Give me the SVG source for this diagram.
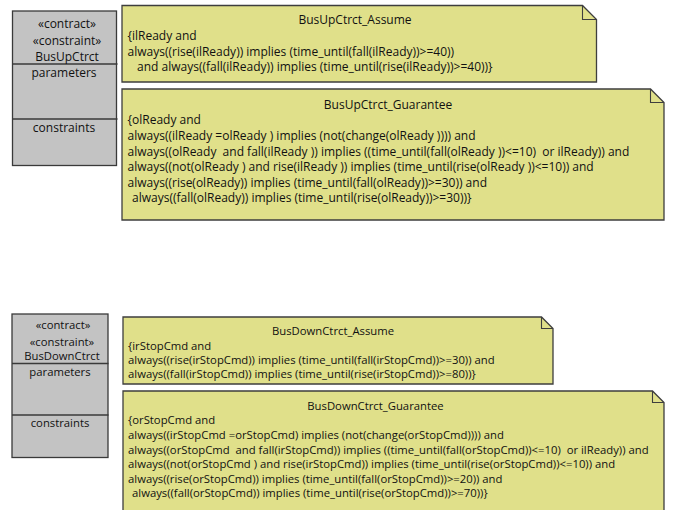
<svg xmlns="http://www.w3.org/2000/svg" width="673" height="510" viewBox="0 0 673 510" xml:space="preserve">
  <style>
    .cls { fill: #c3c3c3; stroke: #3a3a3a; stroke-width: 1.3; }
    .div { stroke: #3a3a3a; stroke-width: 1.3; fill: none; }
    .note { fill: #e0e08a; stroke: #3e3e3e; stroke-width: 1.3; }
    .fold { fill: none; stroke: #3e3e3e; stroke-width: 1.1; }
    text { font-family: "Open Sans", "Noto Sans", sans-serif; fill: #111; white-space: pre; }
    .t { font-size: 12px; }
    .b { font-size: 11.3px; }
    .c { text-anchor: middle; }
  </style>

  <!-- BusUpCtrct contract block -->
  <g id="BusUpCtrct">
    <rect class="cls" x="12.5" y="11" width="104" height="154.5"/>
    <line class="div" x1="12.5" y1="64" x2="117.5" y2="64"/>
    <line class="div" x1="12.5" y1="119" x2="117.5" y2="119"/>
    <text class="t c" x="67" y="28">«contract»</text>
    <text class="t c" x="67" y="44.5">«constraint»</text>
    <text class="t c" x="67" y="60.5">BusUpCtrct</text>
    <text class="t c" x="64" y="77">parameters</text>
    <text class="t c" x="64" y="132">constraints</text>
  </g>

  <!-- BusUpCtrct assume note -->
  <g id="BusUpCtrct_Assume">
    <path class="note" d="M122,5.5 H582.5 L596.5,19.5 V82 H122 Z"/>
    <path class="fold" d="M582.5,5.5 V19.5 H596.5"/>
    <text class="t c" x="355" y="24">BusUpCtrct_Assume</text>
    <text class="t" x="127.5" y="40">{ilReady and</text>
    <text class="t" x="127.5" y="55.5">always((rise(ilReady)) implies (time_until(fall(ilReady))&gt;=40))</text>
    <text class="t" x="137" y="71">and always((fall(ilReady)) implies (time_until(rise(ilReady))&gt;=40))}</text>
  </g>

  <!-- BusUpCtrct guarantee note -->
  <g id="BusUpCtrct_Guarantee">
    <path class="note" d="M122,89 H650.5 L664,102.5 V220 H122 Z"/>
    <path class="fold" d="M650.5,89 V102.5 H664"/>
    <text class="t c" x="388" y="108.5">BusUpCtrct_Guarantee</text>
    <text class="t" x="127.5" y="124">{olReady and</text>
    <text class="t" x="127.5" y="140">always((ilReady =olReady ) implies (not(change(olReady )))) and</text>
    <text class="t" x="127.5" y="155.5">always((olReady  and fall(ilReady )) implies ((time_until(fall(olReady ))&lt;=10)  or ilReady)) and</text>
    <text class="t" x="127.5" y="171">always((not(olReady ) and rise(ilReady )) implies (time_until(rise(olReady ))&lt;=10)) and</text>
    <text class="t" x="127.5" y="186.5">always((rise(olReady)) implies (time_until(fall(olReady))&gt;=30)) and</text>
    <text class="t" x="132" y="202">always((fall(olReady)) implies (time_until(rise(olReady))&gt;=30))}</text>
  </g>

  <!-- BusDownCtrct contract block -->
  <g id="BusDownCtrct">
    <rect class="cls" x="12" y="314" width="96" height="143.5"/>
    <line class="div" x1="12" y1="363.5" x2="108.5" y2="363.5"/>
    <line class="div" x1="12" y1="415" x2="108.5" y2="415"/>
    <text class="b c" x="63" y="329">«contract»</text>
    <text class="b c" x="62" y="345.5">«constraint»</text>
    <text class="b c" x="62" y="360">BusDownCtrct</text>
    <text class="b c" x="60" y="375.5">parameters</text>
    <text class="b c" x="60" y="427">constraints</text>
  </g>

  <!-- BusDownCtrct assume note -->
  <g id="BusDownCtrct_Assume">
    <path class="note" d="M123,317 H541.5 L553,328.5 V384 H123 Z"/>
    <path class="fold" d="M541.5,317 V328.5 H553"/>
    <text class="b c" x="333" y="335">BusDownCtrct_Assume</text>
    <text class="b" x="128" y="349.5">{irStopCmd and</text>
    <text class="b" x="128" y="364">always((rise(irStopCmd)) implies (time_until(fall(irStopCmd))&gt;=30)) and</text>
    <text class="b" x="128" y="378">always((fall(irStopCmd)) implies (time_until(rise(irStopCmd))&gt;=80))}</text>
  </g>

  <!-- BusDownCtrct guarantee note -->
  <g id="BusDownCtrct_Guarantee">
    <path class="note" d="M123,391 H652.5 L664,402.5 V516 H123 Z"/>
    <path class="fold" d="M652.5,391 V402.5 H664"/>
    <text class="b c" x="375.5" y="410">BusDownCtrct_Guarantee</text>
    <text class="b" x="128" y="424">{orStopCmd and</text>
    <text class="b" x="128" y="439">always((irStopCmd =orStopCmd) implies (not(change(orStopCmd)))) and</text>
    <text class="b" x="128" y="453.5">always((orStopCmd  and fall(irStopCmd)) implies ((time_until(fall(orStopCmd))&lt;=10)  or ilReady)) and</text>
    <text class="b" x="128" y="468">always((not(orStopCmd ) and rise(irStopCmd)) implies (time_until(rise(orStopCmd))&lt;=10)) and</text>
    <text class="b" x="128" y="483">always((rise(orStopCmd)) implies (time_until(fall(orStopCmd))&gt;=20)) and</text>
    <text class="b" x="132" y="497">always((fall(orStopCmd)) implies (time_until(rise(orStopCmd))&gt;=70))}</text>
  </g>

  <g id="connectors"/>
</svg>
